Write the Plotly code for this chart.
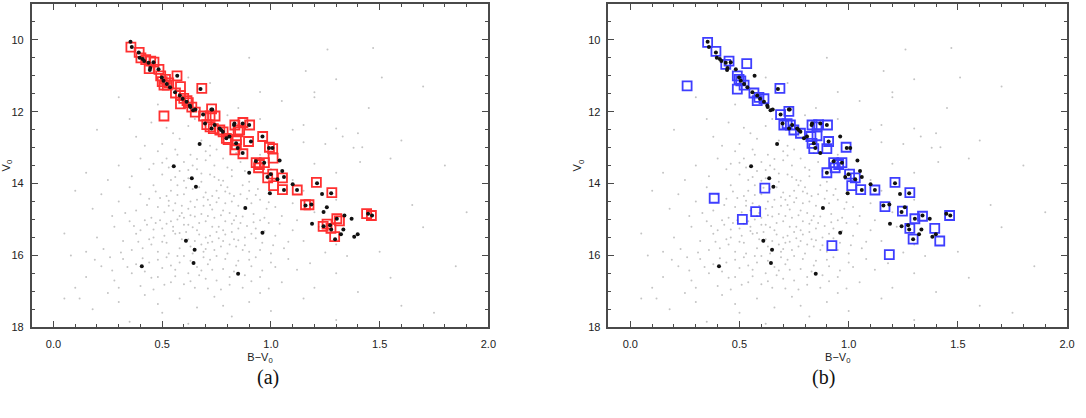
import plotly.graph_objects as go

# ---- data (B-V0, V0) ----
field_stars = [
    (1.26,10.27),(1.47,10.23),(1.16,10.87),(1.51,11.05),(1.20,11.46),(1.15,12.37),(1.30,12.47),(1.33,12.69),
    (1.38,13.00),(1.42,12.99),(1.41,13.40),(0.90,10.50),(1.70,11.30),(1.80,13.50),
    (0.72,11.2),(0.95,11.45),(1.30,11.1),(0.48,11.8),(0.85,11.9),(1.05,11.7),(0.30,11.6),(1.45,11.9),(0.62,11.05),(1.20,11.6),
    (0.45,12.3),(0.55,12.6),(0.62,12.4),(0.68,12.8),(0.50,12.9),(0.38,12.7),(0.95,12.2),(1.10,12.5),(1.25,12.9),(0.72,12.95),
    (0.58,12.75),(0.42,12.95),(1.40,12.6),(0.20,12.5),(0.80,12.1),(1.60,12.8),(0.65,12.2),(0.52,12.45),(0.35,12.2),(1.15,12.85),
    (0.48,13.1),(0.52,13.3),(0.56,13.05),(0.60,13.4),(0.63,13.2),(0.66,13.6),(0.70,13.1),(0.74,13.5),(0.78,13.3),(0.82,13.8),
    (0.86,13.4),(0.90,13.95),(0.44,13.6),(0.50,13.75),(0.54,13.9),(0.58,13.65),(0.62,13.85),(0.68,13.95),(0.72,13.75),(0.76,13.9),
    (0.80,13.55),(0.40,13.3),(0.36,13.8),(0.30,13.5),(0.25,13.9),(0.95,13.2),(1.00,13.6),(1.10,13.9),(1.20,13.45),(0.15,13.7),
    (0.46,13.45),(0.64,13.5),(0.70,13.35),(0.84,13.15),(0.88,13.65),(0.57,13.2),(1.30,13.7),(1.55,13.3),(0.53,13.55),(0.75,13.05),
    (0.35,14.1),(0.40,14.3),(0.43,14.6),(0.46,14.05),(0.49,14.4),(0.51,14.8),(0.54,14.2),(0.56,14.55),(0.58,14.9),(0.60,14.3),
    (0.62,14.7),(0.64,14.15),(0.66,14.45),(0.68,14.85),(0.70,14.25),(0.72,14.6),(0.74,14.95),(0.76,14.4),(0.78,14.75),(0.80,14.1),
    (0.82,14.5),(0.84,14.9),(0.86,14.3),(0.88,14.65),(0.90,14.2),(0.92,14.85),(0.95,14.45),(0.98,14.7),(1.00,14.3),(1.05,14.9),
    (1.10,14.55),(0.30,14.5),(0.27,14.9),(0.22,14.3),(0.38,14.75),(0.45,14.95),(0.52,14.35),(0.57,14.05),(0.63,14.5),(0.67,14.1),
    (0.71,14.9),(0.75,14.2),(0.79,14.55),(0.83,14.35),(0.87,14.05),(0.91,14.55),(0.94,14.15),(0.97,14.95),(1.02,14.65),(1.15,14.2),
    (1.20,14.8),(1.30,14.45),(0.18,14.7),(0.10,14.2),(0.48,14.65),(0.60,14.95),(0.65,14.65),(0.73,14.35),(0.55,14.75),(0.77,14.05),
    (0.28,15.2),(0.32,15.6),(0.35,15.05),(0.38,15.4),(0.41,15.8),(0.43,15.15),(0.46,15.5),(0.48,15.9),(0.50,15.25),(0.52,15.65),
    (0.54,15.05),(0.56,15.4),(0.58,15.8),(0.60,15.15),(0.62,15.55),(0.64,15.95),(0.66,15.3),(0.68,15.7),(0.70,15.05),(0.72,15.45),
    (0.74,15.85),(0.76,15.2),(0.78,15.6),(0.80,15.95),(0.82,15.35),(0.84,15.75),(0.86,15.1),(0.88,15.5),(0.90,15.9),(0.93,15.25),
    (0.96,15.65),(0.99,15.1),(1.02,15.45),(1.06,15.8),(1.10,15.3),(1.15,15.6),(1.22,15.2),(0.20,15.5),(0.15,15.9),(0.45,15.7),
    (0.51,15.45),(0.55,15.2),(0.59,15.55),(0.63,15.75),(0.67,15.1),(0.71,15.65),(0.75,15.35),(0.79,15.05),(0.83,15.55),(0.87,15.85),
    (0.91,15.4),(0.53,15.95),(0.61,15.35),(0.69,15.9),(0.77,15.75),(0.85,15.25),(0.40,15.3),(0.47,15.1),(0.57,15.0),(0.65,15.6),
    (0.73,15.2),(0.81,15.7),(0.95,15.85),(1.30,15.7),(1.00,15.95),(0.36,15.85),(0.44,15.55),(0.62,15.15),(0.70,15.5),(0.78,15.3),
    (0.22,16.3),(0.28,16.7),(0.32,16.1),(0.36,16.5),(0.40,16.85),(0.44,16.2),(0.48,16.6),(0.52,16.05),(0.56,16.4),(0.60,16.8),
    (0.63,16.15),(0.67,16.55),(0.71,16.25),(0.75,16.7),(0.79,16.1),(0.83,16.45),(0.87,16.9),(0.91,16.3),(0.95,16.6),(1.00,16.2),
    (1.05,16.75),(1.12,16.4),(1.20,16.9),(0.15,16.6),(0.10,16.9),(0.50,16.35),(0.54,16.75),(0.58,16.2),(0.65,16.9),(0.69,16.05),
    (0.73,16.4),(0.77,16.95),(0.81,16.6),(0.85,16.15),(0.46,16.95),(0.38,16.25),(0.30,16.9),(0.62,16.5),(0.70,16.65),(0.88,16.55),
    (0.93,16.05),(0.42,16.45),(0.26,16.05),(1.08,16.1),(1.30,16.5),
    (0.05,17.2),(0.18,17.5),(0.30,17.3),(0.42,17.1),(0.50,17.6),(0.58,17.2),(0.66,17.45),(0.74,17.15),(0.82,17.7),(0.90,17.3),
    (1.00,17.55),(1.15,17.2),(1.30,17.8),(0.35,17.85),(0.62,17.9),(0.95,17.05),(0.25,17.05),(1.60,17.4),(0.78,17.4),(0.48,17.35),
    (0.05,15.39),(0.12,17.2),(1.85,16.3),(1.65,14.6),(1.50,15.9),
    (0.47,14.22),(0.53,14.48),(0.59,14.62),(0.61,14.12),(0.69,14.38),(0.73,14.72),(0.77,14.88),(0.81,14.28),(0.85,14.62),(0.89,14.42),
    (0.49,15.02),(0.55,15.32),(0.61,15.62),(0.67,15.42),(0.73,15.62),(0.79,15.42),(0.85,15.58),(0.89,15.18),(0.93,15.52),(0.97,15.32),
    (0.46,15.28),(0.52,15.12),(0.58,15.38),(0.64,15.22),(0.70,15.82),(0.76,15.52),(0.82,15.12),(0.88,15.72),(0.92,15.08),(0.50,15.62),
    (0.48,16.12),(0.54,16.28),(0.60,16.02),(0.66,16.32),(0.72,16.12),(0.78,16.38),(0.84,16.28),(0.90,16.12),(0.56,16.58),(0.68,16.42),
    (0.42,15.02),(0.44,14.42),(0.39,15.62),(0.41,16.08),(0.34,16.32),(0.37,15.18),(0.33,14.82),(0.31,15.92),(0.96,16.42),(1.02,16.32),
    (0.57,14.32),(0.63,14.88),(0.69,14.62),(0.75,14.52),(0.81,14.82),(0.87,14.92),(0.93,14.32),(0.99,14.52),(1.04,15.12),(1.08,15.62),
    (0.62,13.62),(0.68,13.72),(0.74,13.82),(0.56,13.82),(0.50,13.42),(0.66,13.32),(0.82,13.62),(0.78,13.92),(0.72,13.22),(0.60,13.92),
    (0.53,14.62),(0.59,14.82),(0.65,14.92),(0.71,14.45),(0.79,14.22),(0.83,15.02),(0.95,15.02),(1.01,15.72),(0.75,16.02),(0.63,16.72),
    (0.45,16.62),(0.51,16.82),(0.57,16.02),(0.71,16.92),(0.81,16.82),(0.91,16.72),(0.99,16.92),(0.27,16.42),(0.23,15.82),(0.19,16.12),
    (1.12,15.02),(1.18,16.22),(1.25,15.92),(1.35,16.02),(1.40,17.02),(1.55,16.62),(1.70,15.22),(1.75,17.6),(1.90,14.8),(0.08,16.0),
]

member_stars = [
    (0.354,10.05),(0.360,10.20),(0.392,10.35),(0.396,10.50),(0.417,10.59),(0.437,10.64),(0.460,10.62),(0.445,10.78),
    (0.483,10.82),(0.569,11.00),(0.498,11.05),(0.506,11.14),(0.521,11.23),(0.536,11.32),(0.676,11.37),(0.559,11.46),
    (0.581,11.55),(0.594,11.64),(0.612,11.72),(0.627,11.83),(0.642,11.96),(0.688,12.08),(0.726,11.94),(0.741,12.37),
    (0.764,12.47),(0.779,12.56),(0.809,12.69),(0.672,12.90),(0.832,12.33),(0.870,12.33),(0.900,12.37),(0.771,12.51),
    (0.840,12.88),(0.847,13.01),(0.870,13.15),(0.908,12.83),(0.961,12.69),(0.991,13.01),(1.007,13.01),(1.040,13.36),
    (0.931,13.38),(0.969,13.42),(0.900,13.70),(1.052,13.65),(1.060,13.82),(0.999,13.74),(0.984,13.82),(1.030,13.88),
    (1.100,14.02),(1.120,14.18),(1.060,14.18),(0.995,14.27),(1.212,13.99),(1.235,14.29),(1.277,14.27),(0.882,14.68),
    (1.159,14.61),(1.186,14.58),(1.257,14.66),(1.242,14.79),(1.303,14.98),(1.338,14.89),(1.371,14.98),(1.447,14.84),
    (1.465,14.89),(1.189,15.12),(1.242,15.19),(1.272,15.16),(1.277,15.28),(1.333,15.28),(1.322,15.41),(1.295,15.55),
    (1.383,15.48),(1.399,15.41),(0.961,15.37),(0.553,13.52),(0.636,13.85),(0.655,14.09),(0.609,15.59),(0.649,15.84),
    (0.644,16.21),(0.406,16.30),(0.849,16.51),(0.410,10.53),(0.443,10.84),(0.629,11.87),(0.652,11.94),(0.730,11.94),
    (0.697,12.33),(0.727,12.47),(0.830,12.37),(0.795,12.74),
]

sample_a = [
    (0.356,10.20),(0.394,10.35),(0.402,10.50),(0.424,10.55),(0.447,10.59),(0.462,10.62),(0.440,10.80),(0.485,10.82),
    (0.493,11.00),(0.568,11.00),(0.515,11.10),(0.500,11.16),(0.508,11.26),(0.523,11.26),(0.584,11.30),(0.682,11.35),
    (0.561,11.48),(0.584,11.55),(0.599,11.63),(0.614,11.69),(0.584,11.78),(0.636,11.87),(0.652,12.01),(0.508,12.12),
    (0.727,11.92),(0.690,12.12),(0.720,12.12),(0.743,12.12),(0.705,12.36),(0.720,12.42),(0.735,12.47),(0.765,12.51),
    (0.780,12.56),(0.803,12.78),(0.834,12.37),(0.856,12.51),(0.871,12.30),(0.902,12.37),(0.841,12.78),(0.841,12.92),
    (0.834,13.06),(0.871,13.17),(0.897,12.83),(0.962,12.69),(0.993,12.99),(1.008,13.03),(1.010,13.29),(0.932,13.42),
    (0.947,13.47),(0.970,13.42),(0.943,13.56),(0.985,13.84),(1.008,13.74),(1.053,13.84),(1.012,14.06),(1.053,14.17),
    (1.121,14.18),(1.209,13.97),(1.280,14.25),(1.159,14.59),(1.175,14.59),(1.303,14.98),(1.315,15.04),(1.240,15.19),
    (1.258,15.13),(1.276,15.25),(1.293,15.48),(1.440,14.84),(1.462,14.89),(0.849,12.56),(0.795,12.74),(0.530,11.20),
    (0.620,11.75),
]

sample_b = [
    (0.354,10.07),(0.392,10.32),(0.437,10.68),(0.452,10.59),(0.533,10.66),(0.260,11.28),(0.490,11.00),(0.498,11.10),
    (0.506,11.14),(0.490,11.37),(0.521,11.26),(0.566,11.48),(0.589,11.60),(0.581,11.69),(0.612,11.64),(0.685,11.35),
    (0.688,12.08),(0.726,11.99),(0.703,12.37),(0.718,12.33),(0.733,12.37),(0.749,12.51),(0.779,12.60),(0.827,12.69),
    (0.832,12.37),(0.855,12.42),(0.862,12.36),(0.903,12.37),(0.855,12.67),(0.832,12.88),(0.840,13.03),(0.908,12.83),
    (0.900,13.03),(0.988,12.99),(0.931,13.42),(0.954,13.47),(0.969,13.42),(0.938,13.56),(0.900,13.70),(1.004,13.74),
    (1.030,13.84),(1.014,14.06),(1.055,14.17),(1.120,14.18),(1.212,13.97),(1.280,14.25),(1.166,14.64),(1.246,14.77),
    (1.303,14.98),(1.338,14.91),(1.462,14.89),(1.280,15.25),(1.295,15.55),(1.394,15.25),(1.417,15.60),(1.186,15.98),
    (0.384,14.41),(0.513,15.00),(0.574,14.78),(0.616,14.13),(0.923,15.73),
]

panel_labels = ["(a)", "(b)"]
x_title = "B\u2212V<sub>0</sub>"
y_title = "V<sub>0</sub>"

def xy(pairs):
    return [p[0] for p in pairs], [p[1] for p in pairs]

fig = go.Figure()
panels = [("x", "y", sample_a, "#ff1a1a"), ("x2", "y2", sample_b, "#2a2aff")]
for xa, ya, sample, col in panels:
    fx, fy = xy(field_stars)
    fig.add_trace(go.Scatter(x=fx, y=fy, mode="markers", xaxis=xa, yaxis=ya,
                             marker=dict(size=2, color="#c4c4c4"), showlegend=False, hoverinfo="skip"))
    sx, sy = xy(sample)
    fig.add_trace(go.Scatter(x=sx, y=sy, mode="markers", xaxis=xa, yaxis=ya,
                             marker=dict(symbol="square-open", size=9, color=col, line=dict(width=1.8, color=col)),
                             opacity=0.9, showlegend=False))
    mx, my = xy(member_stars)
    fig.add_trace(go.Scatter(x=mx, y=my, mode="markers", xaxis=xa, yaxis=ya,
                             marker=dict(size=4, color="#111111"), showlegend=False))

axcol = "#4a4a4a"
tickfont = dict(family="Liberation Sans, Arial", size=11, color="#222")
titlefont = dict(family="Liberation Sans, Arial", size=11, color="#222")
def xaxis(dom, anchor):
    return dict(domain=dom, anchor=anchor, range=[-0.1, 2.0], tickmode="linear", tick0=0, dtick=0.5,
                tickformat=".1f", ticks="inside", ticklen=6, tickwidth=1.3, tickcolor=axcol,
                minor=dict(tickmode="linear", tick0=0, dtick=0.1, ticks="inside", ticklen=3, tickwidth=1.1,
                           tickcolor=axcol, showgrid=False),
                showline=True, linecolor=axcol, linewidth=1.8, mirror="ticks", showgrid=False, zeroline=False,
                ticklabelstandoff=6,
                tickfont=tickfont, title=dict(text=x_title, font=titlefont, standoff=4))
def yaxis(dom, anchor):
    return dict(domain=dom, anchor=anchor, range=[18, 9], tickmode="linear", tick0=10, dtick=2,
                ticks="inside", ticklen=6, tickwidth=1.3, tickcolor=axcol,
                minor=dict(tickmode="linear", tick0=10, dtick=0.5, ticks="inside", ticklen=3, tickwidth=1.1,
                           tickcolor=axcol, showgrid=False),
                showline=True, linecolor=axcol, linewidth=1.8, mirror="ticks", showgrid=False, zeroline=False,
                ticklabelstandoff=4,
                tickfont=tickfont, title=dict(text=y_title, font=titlefont, standoff=4))

W, H = 1086, 418
ydom = [1 - 332 / H, 1 - 4 / H]
fig.update_layout(
    width=W, height=H, margin=dict(l=0, r=0, t=0, b=0),
    paper_bgcolor="white", plot_bgcolor="white",
    xaxis=xaxis([32 / W, 492 / W], "y"), yaxis=yaxis(ydom, "x"),
    xaxis2=xaxis([613 / W, 1075 / W], "y2"), yaxis2=yaxis(ydom, "x2"),
    annotations=[
        dict(text=panel_labels[0], x=270 / W, y=1 - 383 / H, xref="paper", yref="paper", showarrow=False,
             xanchor="center", yanchor="middle",
             font=dict(family="Liberation Serif, DejaVu Serif", size=20, color="#111")),
        dict(text=panel_labels[1], x=830 / W, y=1 - 383 / H, xref="paper", yref="paper", showarrow=False,
             xanchor="center", yanchor="middle",
             font=dict(family="Liberation Serif, DejaVu Serif", size=20, color="#111")),
    ],
)
fig.write_html("out.html")
